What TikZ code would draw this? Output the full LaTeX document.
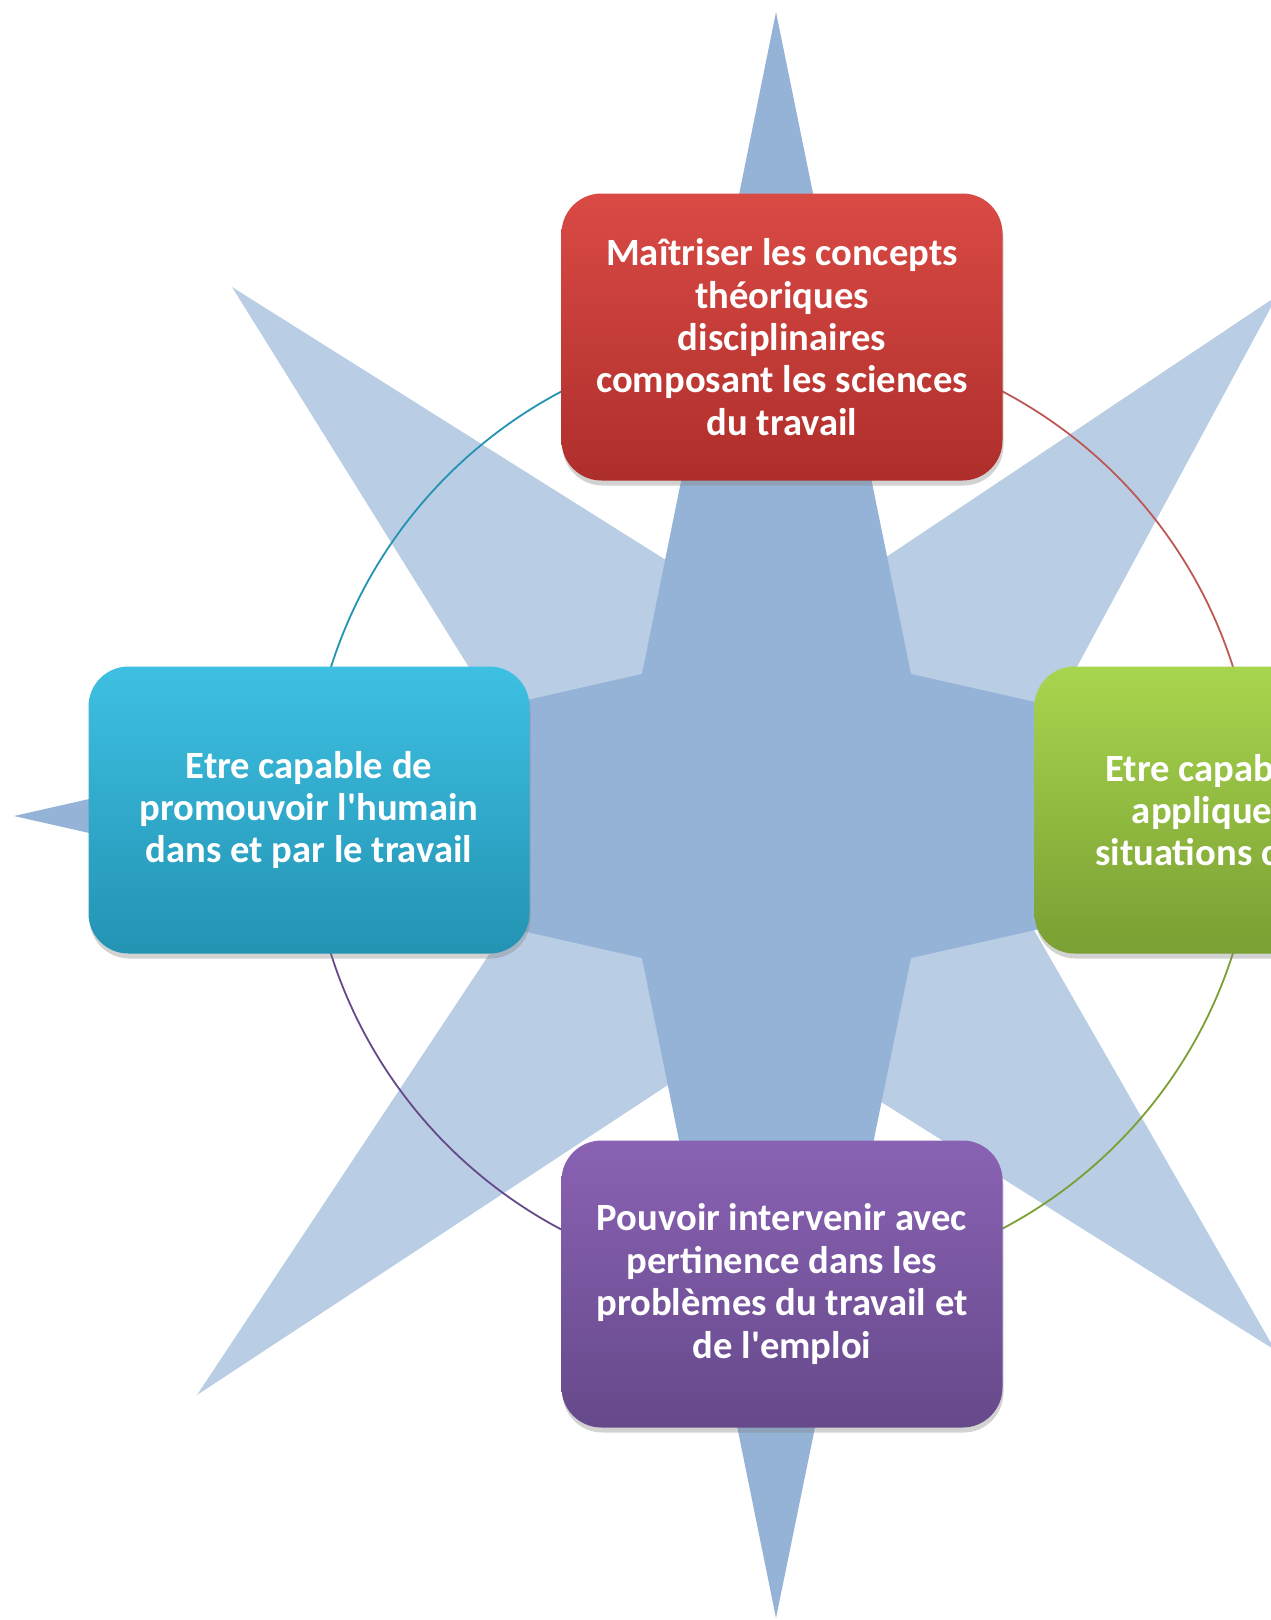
\documentclass[tikz,border=0pt]{standalone}
\usepackage{fontspec}
\setmainfont{Carlito}
\usetikzlibrary{backgrounds,shadows}

\definecolor{sterndunkel}{HTML}{95B3D7}
\definecolor{sternhell}{HTML}{B9CDE5}
\definecolor{rougeH}{HTML}{DA4A45}
\definecolor{rougeB}{HTML}{AE2E2B}
\definecolor{cyanH}{HTML}{3EC0E2}
\definecolor{cyanB}{HTML}{2393B3}
\definecolor{vertH}{HTML}{A8D54E}
\definecolor{vertB}{HTML}{7A9F33}
\definecolor{violetH}{HTML}{8A62B4}
\definecolor{violetB}{HTML}{66498A}

\tikzset{
    cible/.style={rounded corners=40pt, minimum width=441pt, minimum height=287pt,
        text=white, align=center, font=\fontsize{38.6pt}{42.4pt}\selectfont\bfseries,
        drop shadow={shadow xshift=1pt, shadow yshift=-5pt, opacity=0.35}},
    anneau/.style={line width=1.8pt}
}

\begin{document}
\begin{tikzpicture}[x=1pt, y=-1pt]

    %% Background
    \useasboundingbox (0,0) rectangle (1270,1620);

    % Boxes
    \node[cible, top color=rougeH, bottom color=rougeB] (maitrise) at (782,337)
    {Maîtriser les concepts\\théoriques\\disciplinaires\\composant les sciences\\du travail};
    \node[cible, top color=vertH, bottom color=vertB] (application) at (1255,810)
    {Etre capable de les\\appliquer à des\\situations concrètes};
    \node[cible, top color=violetH, bottom color=violetB] (intervention) at (782,1284)
    {Pouvoir intervenir avec\\pertinence dans les\\problèmes du travail et\\de l\textquotesingle emploi};
    \node[cible, top color=cyanH, bottom color=cyanB] (promotion) at (309,810)
    {Etre capable de\\promouvoir l\textquotesingle humain\\dans et par le travail};

    \begin{pgfonlayer}{background}
    \fill[white] (0,0) rectangle (1270,1620);

    % Compass rose
    \fill[sternhell] (777,630) -- (1277,296) -- (983,841) -- (1275,1350)
        -- (759,1025) -- (197,1395) -- (571,831) -- (232,287) -- cycle;
    \fill[sterndunkel] (776,12) -- (911,674) -- (1540,816) -- (911,958)
        -- (776,1618) -- (642,958) -- (14,816) -- (642,674) -- cycle;

    % Ring
    \draw[anneau, rougeB!80] (maitrise.center) arc[start angle=-90, end angle=0, radius=473];
    \draw[anneau, vertB] (application.center) arc[start angle=0, end angle=90, radius=473];
    \draw[anneau, violetB] (intervention.center) arc[start angle=90, end angle=180, radius=473];
    \draw[anneau, cyanB] (promotion.center) arc[start angle=180, end angle=270, radius=473];
    \end{pgfonlayer}

\end{tikzpicture}
\end{document}
